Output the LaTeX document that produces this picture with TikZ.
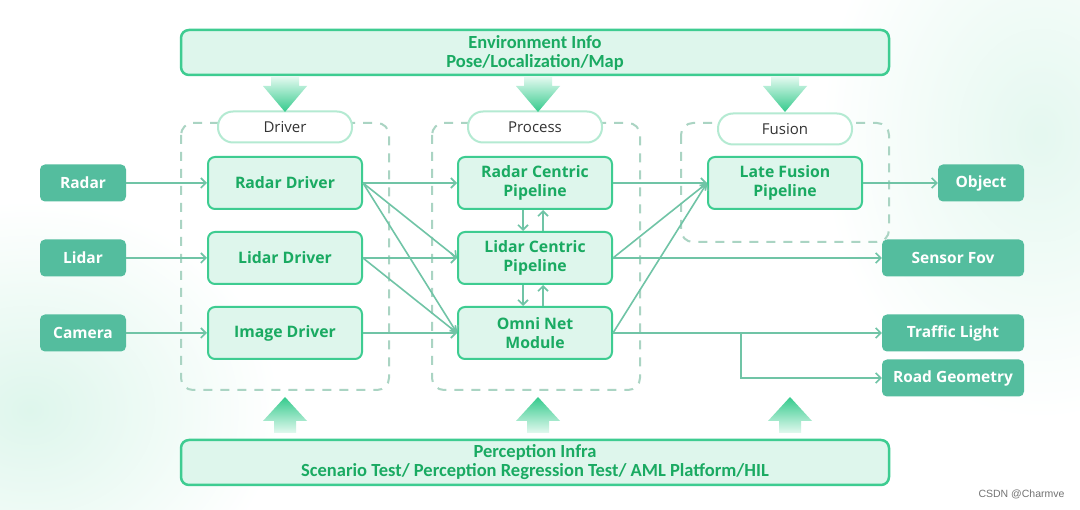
\documentclass[tikz,border=0pt]{standalone}
\usepackage{fontspec}
\setmainfont{Open Sans}
\newfontfamily\barfont{Carlito}
\newfontfamily\markfont{Liberation Sans}
\usetikzlibrary{arrows.meta}

\definecolor{boxfill}{RGB}{222,246,236}
\definecolor{boxline}{RGB}{62,204,145}
\definecolor{boxtext}{RGB}{26,170,98}
\definecolor{iofill}{RGB}{84,189,158}
\definecolor{linkcol}{RGB}{112,196,166}
\definecolor{groupline}{RGB}{170,212,195}
\definecolor{tagline}{RGB}{180,234,210}
\definecolor{arrowtip}{RGB}{52,202,140}
\definecolor{arrowtail}{RGB}{226,249,239}

\begin{document}
\begin{tikzpicture}[x=1pt, y=-1pt,
    box/.style={draw=boxline, line width=2pt, fill=boxfill, rounded corners=7pt,
      minimum width=154pt, minimum height=52pt, align=center, text=boxtext,
      font=\fontsize{15.8}{19}\selectfont\bfseries},
    io/.style={fill=iofill, rounded corners=5pt, minimum height=37pt, text=white,
      font=\fontsize{15.5}{18}\selectfont\bfseries},
    tag/.style={draw=tagline, line width=2pt, fill=white, rounded corners=15pt,
      minimum width=134pt, minimum height=31pt, text=black!80,
      font=\fontsize{15}{18}\selectfont},
    bar/.style={draw=boxline, line width=2.5pt, fill=boxfill, rounded corners=8pt,
      minimum width=708pt, minimum height=45pt, align=center, text=boxtext,
      font=\barfont\fontsize{18.5}{19}\selectfont\bfseries},
    group/.style={draw=groupline, line width=2pt, dash pattern=on 9pt off 8pt, rounded corners=12pt},
    link/.style={draw=linkcol, line width=1.6pt, -{Straight Barb[length=5pt,width=10pt]}},
  ]

  % background
  \useasboundingbox (0,0) rectangle (1080,510);
  \fill[white] (0,0) rectangle (1080,510);
  \shade[inner color=boxfill, outer color=white] (-220,200) rectangle (280,620);
  \shade[inner color=boxfill!80, outer color=white] (820,-150) rectangle (1260,420);

  % top and bottom bars
  \node[bar] (envinfo) at (535,52.5) {Environment Info\\Pose/Localization/Map};
  \node[bar] (infra) at (535,462.5) {Perception Infra\\Scenario Test/ Perception Regression Test/ AML Platform/HIL};

  % groups
  \draw[group] (181,123) rectangle (389,390);
  \draw[group] (432,123) rectangle (640,390);
  \draw[group] (681,123) rectangle (889,242);
  \node[tag] (drivertag) at (285,127) {Driver};
  \node[tag] (processtag) at (535,127) {Process};
  \node[tag] (fusiontag) at (785,129) {Fusion};

  % big arrows
  \foreach \cx in {285,538,785}
    \shade[top color=arrowtail, bottom color=arrowtip] (\cx-14,77) -- (\cx+14,77) -- (\cx+14,86)
      -- (\cx+22,86) -- (\cx,112) -- (\cx-22,86) -- (\cx-14,86) -- cycle;
  \foreach \cx in {285,538,790}
    \shade[top color=arrowtip, bottom color=arrowtail] (\cx,397) -- (\cx+22,421) -- (\cx+11,421)
      -- (\cx+11,433) -- (\cx-11,433) -- (\cx-11,421) -- (\cx-22,421) -- cycle;

  % sensors
  \node[io, minimum width=86pt] (radar) at (83,183) {Radar};
  \node[io, minimum width=86pt] (lidar) at (83,258) {Lidar};
  \node[io, minimum width=86pt] (camera) at (83,333) {Camera};

  % drivers
  \node[box] (radardrv) at (285,183) {Radar Driver};
  \node[box] (lidardrv) at (285,258) {Lidar Driver};
  \node[box] (imagedrv) at (285,333) {Image Driver};

  % process
  \node[box] (radarpipe) at (535,183) {Radar Centric\\Pipeline};
  \node[box] (lidarpipe) at (535,258) {Lidar Centric\\Pipeline};
  \node[box] (omninet) at (535,333) {Omni Net\\Module};

  % fusion
  \node[box] (latefusion) at (785,183) {Late Fusion\\Pipeline};

  % outputs
  \node[io, minimum width=86pt] (object) at (981,183) {Object};
  \node[io, minimum width=142pt] (sensorfov) at (953,258) {Sensor Fov};
  \node[io, minimum width=142pt] (traffic) at (953,333) {Traffic Light};
  \node[io, minimum width=142pt] (roadgeo) at (953,378) {Road Geometry};

  % links
  \draw[link] (radar) -- (radardrv);
  \draw[link] (lidar) -- (lidardrv);
  \draw[link] (camera) -- (imagedrv);

  \draw[link] (radardrv.east) -- (radarpipe.west);
  \draw[link] (radardrv.east) -- (lidarpipe.west);
  \draw[link] (radardrv.east) -- (omninet.west);
  \draw[link] (lidardrv.east) -- (lidarpipe.west);
  \draw[link] (lidardrv.east) -- (omninet.west);
  \draw[link] (imagedrv.east) -- (omninet.west);

  \draw[link] ([xshift=-12pt]radarpipe.south) -- ([xshift=-12pt]lidarpipe.north);
  \draw[link] ([xshift=8pt]lidarpipe.north) -- ([xshift=8pt]radarpipe.south);
  \draw[link] ([xshift=-12pt]lidarpipe.south) -- ([xshift=-12pt]omninet.north);
  \draw[link] ([xshift=8pt]omninet.north) -- ([xshift=8pt]lidarpipe.south);

  \draw[link] (radarpipe.east) -- (latefusion.west);
  \draw[link] (lidarpipe.east) -- (latefusion.west);
  \draw[link] (omninet.east) -- (latefusion.west);
  \draw[link] (latefusion) -- (object);

  \draw[link] (lidarpipe.east) -- (sensorfov.west);
  \draw[link] (omninet.east) -- (traffic.west);
  \draw[link] (omninet.east) ++(128,0) |- (roadgeo.west);

  \node[text=black!55, font=\markfont\fontsize{10.5}{12}\selectfont, anchor=east] (mark) at (1068,494) {CSDN @Charmve};
\end{tikzpicture}
\end{document}
